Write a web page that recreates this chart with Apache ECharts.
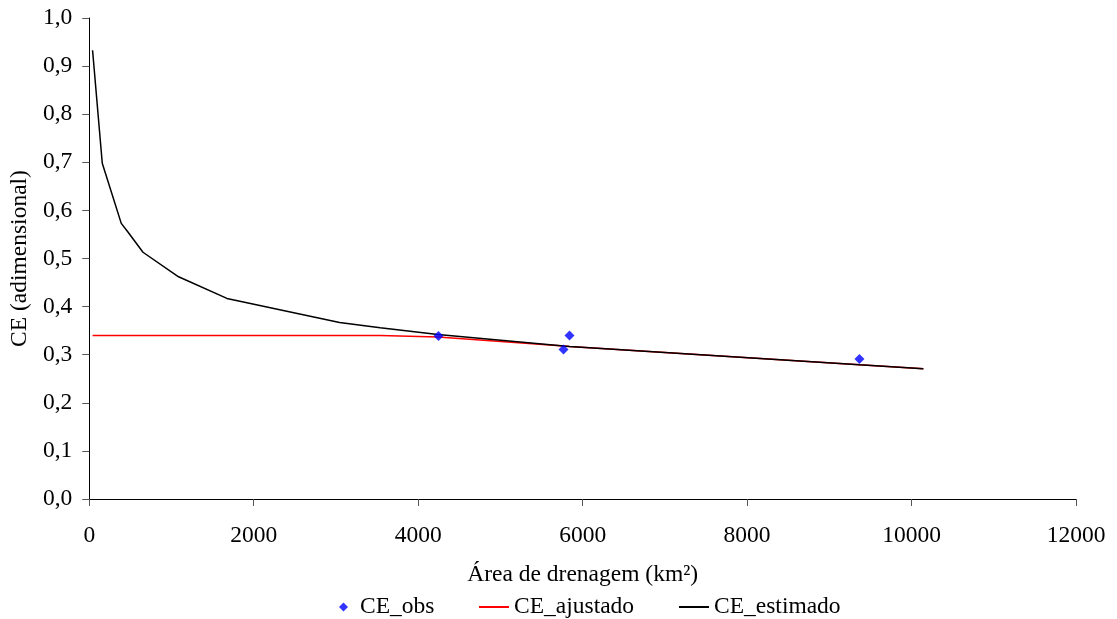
<!DOCTYPE html>
<html>
<head>
<meta charset="utf-8">
<script src="https://cdn.jsdelivr.net/npm/echarts@6/dist/echarts.min.js"></script>
<style>
html,body{margin:0;padding:0;background:#fff;}
#c{width:1117px;height:619px;}
</style>
</head>
<body>
<div id="c"></div>
<script>
// Observed points
const obsX = [4247, 5840, 5767, 9366];
const obsY = [0.339, 0.340, 0.311, 0.291];
// Estimated curve
const estX = [40, 158, 389, 470, 653, 1086, 1674, 3044, 3538, 4240, 5770, 5840, 9366, 10144];
const estY = [0.933, 0.698, 0.573, 0.555, 0.513, 0.462, 0.417, 0.367, 0.356, 0.342, 0.318, 0.317, 0.279, 0.271];
// Adjusted curve
const ajX = [40, 158, 389, 470, 653, 1086, 1674, 3044, 3538, 4240, 5770, 5840, 9366, 10144];
const ajY = [0.340, 0.340, 0.340, 0.340, 0.340, 0.340, 0.340, 0.340, 0.340, 0.337, 0.318, 0.317, 0.279, 0.271];
const xTicks = {min: 0, max: 12000, interval: 2000};
const yTicks = {min: 0, max: 1, interval: 0.1};

const pair = (xs, ys) => xs.map((x, i) => [x, ys[i]]);
const font = '"Liberation Serif", "Times New Roman", serif';
const fs = 23.5;

const chart = echarts.init(document.getElementById('c'), null, {renderer: 'canvas'});
chart.setOption({
  animation: false,
  backgroundColor: '#ffffff',
  textStyle: {fontFamily: font, color: '#000'},
  grid: {left: 89, right: 41, top: 18, bottom: 120, containLabel: false},
  xAxis: {
    type: 'value', min: xTicks.min, max: xTicks.max, interval: xTicks.interval,
    name: 'Área de drenagem (km²)', nameLocation: 'middle', nameGap: 64,
    nameTextStyle: {fontFamily: font, fontSize: fs, color: '#000'},
    axisLine: {show: true, onZero: false, lineStyle: {color: '#000', width: 1}},
    axisTick: {show: true, length: 7, inside: false, lineStyle: {color: '#555', width: 1}},
    axisLabel: {fontFamily: font, fontSize: fs, color: '#000', margin: 25,
      formatter: v => String(v)},
    splitLine: {show: false}
  },
  yAxis: {
    type: 'value', min: yTicks.min, max: yTicks.max, interval: yTicks.interval,
    name: 'CE (adimensional)', nameLocation: 'middle', nameGap: 57,
    nameTextStyle: {fontFamily: font, fontSize: fs, color: '#000'},
    axisLine: {show: true, onZero: false, lineStyle: {color: '#000', width: 1}},
    axisTick: {show: true, length: 7, inside: false, lineStyle: {color: '#555', width: 1}},
    axisLabel: {fontFamily: font, fontSize: fs, color: '#000', margin: 17,
      formatter: v => v.toFixed(1).replace('.', ',')},
    splitLine: {show: false}
  },
  legend: [
    {data: [{name: 'CE_obs', icon: 'diamond'}], left: 334, top: 590, itemWidth: 9, itemHeight: 9, itemGap: 0,
     textStyle: {fontFamily: font, fontSize: fs, color: '#000', padding: [0, 0, 0, 7]}},
    {data: [{name: 'CE_ajustado', icon: 'rect'}], left: 474, top: 590, itemWidth: 30, itemHeight: 2, itemGap: 0,
     textStyle: {fontFamily: font, fontSize: fs, color: '#000'}},
    {data: [{name: 'CE_estimado', icon: 'rect'}], left: 674, top: 590, itemWidth: 30, itemHeight: 2, itemGap: 0,
     textStyle: {fontFamily: font, fontSize: fs, color: '#000'}}
  ],
  series: [
    {name: 'CE_obs', type: 'scatter', data: pair(obsX, obsY), symbol: 'diamond', symbolSize: 10,
     itemStyle: {color: '#0000ff'}, z: 5},
    {name: 'CE_ajustado', type: 'line', data: pair(ajX, ajY), showSymbol: false, symbol: 'none',
     lineStyle: {color: '#ff0000', width: 1.5}, itemStyle: {color: '#ff0000'}, z: 2},
    {name: 'CE_estimado', type: 'line', data: pair(estX, estY), showSymbol: false, symbol: 'none',
     lineStyle: {color: '#000000', width: 1.5}, itemStyle: {color: '#000000'}, z: 3}
  ]
});
</script>
</body>
</html>
